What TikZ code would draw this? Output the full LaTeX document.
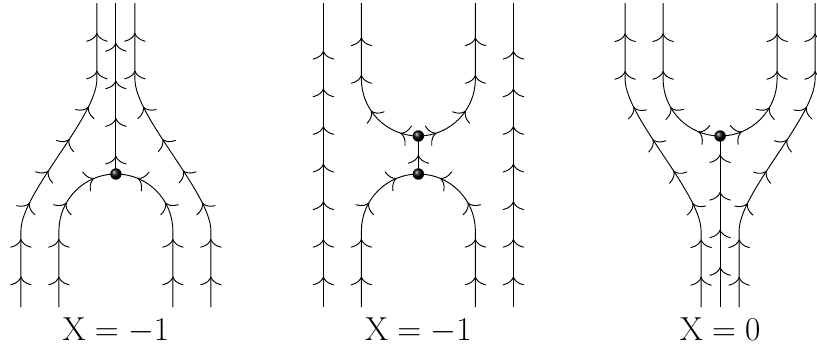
\documentclass[tikz,border=0pt]{standalone}
\usetikzlibrary{arrows.meta,decorations.markings}
\tikzset{
  flow/.style 2 args={decoration={markings,
      mark=between positions #1 and #2 step 0.99cm with {\arrow{Computer Modern Rightarrow[width=16pt,length=6.5pt]}}},
    postaction=decorate},
  backflow/.style 2 args={decoration={markings,
      mark=between positions #1 and #2 step 0.99cm with {\arrowreversed{Computer Modern Rightarrow[width=16pt,length=6.5pt]}}},
    postaction=decorate},
  vertex/.style={circle, inner sep=0pt, minimum size=3mm, ball color=black},
  label/.style={anchor=base, font=\fontsize{25}{30}\selectfont},
}

\begin{document}
\begin{tikzpicture}[x=0.5cm,y=0.5cm,line width=0.7pt]
  \useasboundingbox (0,-2.105) rectangle (43,16.158);
  % vertices
  \coordinate (v1) at (6.1,7);
  \coordinate (v2) at (22.02,7);
  \coordinate (v3) at (22.02,9);
  \coordinate (v4) at (37.9,9);

  % first diagram
  \draw[flow={0.8cm}{8cm}] (1.1,0) -- (1.1,4) .. controls (1.1,6) and (5.1,10) .. (5.1,12) -- (5.1,16);
  \draw[flow={0.8cm}{8cm}] (11.1,0) -- (11.1,4) .. controls (11.1,6) and (7.1,10) .. (7.1,12) -- (7.1,16);
  \draw[flow={0.8cm}{4.3cm}] (3.1,0) -- (3.1,4) arc (180:90:3);
  \draw[flow={0.8cm}{4.3cm}] (9.1,0) -- (9.1,4) arc (0:90:3);
  \draw[flow={0.48cm}{4cm}] (v1) -- (6.1,16);
  \node[vertex] (b1) at (v1) {};
  \node[label] (lab1) at (6.1,-1.74) {$\mathrm{X}=-1$};

  % second diagram
  \draw[flow={0.8cm}{7cm}] (17.02,0) -- (17.02,16);
  \draw[flow={0.8cm}{7cm}] (27.02,0) -- (27.02,16);
  \draw[flow={0.8cm}{4.3cm}] (19.02,0) -- (19.02,4) arc (180:90:3);
  \draw[flow={0.8cm}{4.3cm}] (25.02,0) -- (25.02,4) arc (0:90:3);
  \draw[flow={0.5cm}{0.9cm}] (v2) -- (v3);
  \draw[flow={0.48cm}{4.3cm}] (v3) arc (270:180:3) -- (19.02,16);
  \draw[flow={0.48cm}{4.3cm}] (v3) arc (-90:0:3) -- (25.02,16);
  \node[vertex] (b2) at (v2) {};
  \node[vertex] (b3) at (v3) {};
  \node[label] (lab2) at (22.02,-1.74) {$\mathrm{X}=-1$};

  % third diagram
  \draw[backflow={0.8cm}{8cm}] (32.9,16) -- (32.9,12) .. controls (32.9,10) and (36.9,6) .. (36.9,4) -- (36.9,0);
  \draw[backflow={0.8cm}{8cm}] (42.9,16) -- (42.9,12) .. controls (42.9,10) and (38.9,6) .. (38.9,4) -- (38.9,0);
  \draw[backflow={0.8cm}{4.3cm}] (34.9,16) -- (34.9,12) arc (180:270:3);
  \draw[backflow={0.8cm}{4.3cm}] (40.9,16) -- (40.9,12) arc (0:-90:3);
  \draw[backflow={0.48cm}{4cm}] (v4) -- (37.9,0);
  \node[vertex] (b4) at (v4) {};
  \node[label] (lab3) at (37.9,-1.74) {$\mathrm{X}=0$};
\end{tikzpicture}
\end{document}
